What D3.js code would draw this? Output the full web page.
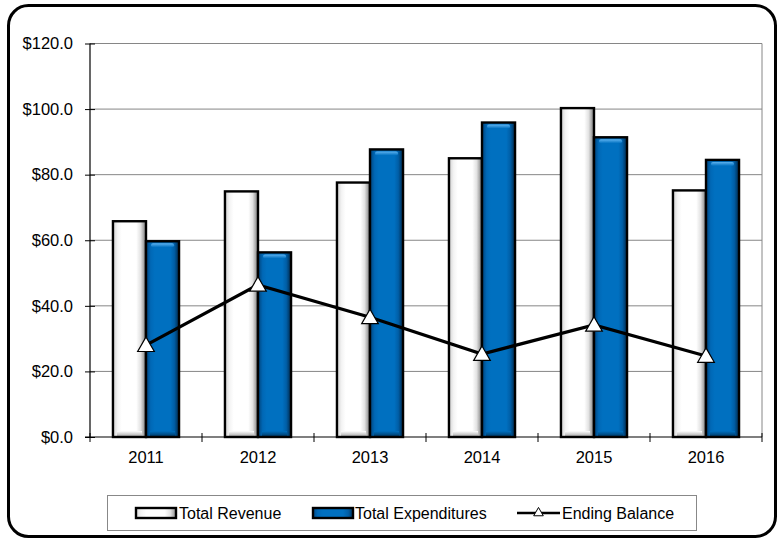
<!DOCTYPE html>
<html>
<head>
<meta charset="utf-8">
<script src="https://cdn.jsdelivr.net/npm/d3@7"></script>
<style>
  html, body { margin: 0; padding: 0; background: #fff; }
  svg { display: block; font-family: "Liberation Sans", Arial, sans-serif; }
</style>
</head>
<body>
<svg id="chart" width="777" height="539"></svg>
<script>
// Fiscal years and amounts (in millions)
const years = ["2011", "2012", "2013", "2014", "2015", "2016"];
const totalRevenue = [65.8, 74.9, 77.6, 85.0, 100.3, 75.2];
const totalExpenditures = [59.7, 56.3, 87.7, 95.9, 91.4, 84.5];
const endingBalance = [28.0, 46.4, 36.5, 25.3, 34.2, 24.7];
const yTicks = [0, 20, 40, 60, 80, 100, 120];
const seriesNames = ["Total Revenue", "Total Expenditures", "Ending Balance"];

const svg = d3.select("#chart");
const plot = { left: 90, right: 762, top: 43.5, bottom: 437 };

// Gradients that give the bars their bevelled look
const defs = svg.append("defs");
function hGrad(id, stops) {
  const g = defs.append("linearGradient").attr("id", id)
    .attr("x1", "0%").attr("x2", "100%").attr("y1", "0%").attr("y2", "0%");
  stops.forEach(([o, c]) => g.append("stop").attr("offset", o).attr("stop-color", c));
}
function vGrad(id, stops) {
  const g = defs.append("linearGradient").attr("id", id)
    .attr("x1", "0%").attr("x2", "0%").attr("y1", "0%").attr("y2", "100%");
  stops.forEach(([o, c]) => g.append("stop").attr("offset", o).attr("stop-color", c));
}
hGrad("revFill", [["0%", "#d8d8d8"], ["12%", "#f4f4f4"], ["25%", "#ffffff"], ["72%", "#ffffff"], ["86%", "#e2e2e2"], ["100%", "#8c8c8c"]]);
hGrad("expFill", [["0%", "#004a86"], ["12%", "#0068b6"], ["25%", "#0070c0"], ["75%", "#0070c0"], ["88%", "#005ea6"], ["100%", "#00345e"]]);
vGrad("expTop", [["0%", "#5fb3f0"], ["100%", "#0070c0"]]);
vGrad("revBottom", [["0%", "#ffffff"], ["100%", "#b0b0b0"]]);
vGrad("expBottom", [["0%", "#0070c0"], ["100%", "#003d6c"]]);

// Outer rounded frame
svg.append("rect")
  .attr("x", 8.5).attr("y", 5.5).attr("width", 767).attr("height", 531)
  .attr("rx", 20).attr("ry", 20)
  .attr("fill", "#fff").attr("stroke", "#000").attr("stroke-width", 3);

const x = d3.scaleBand().domain(years)
  .range([plot.left, plot.right])
  .paddingInner(0.41).paddingOuter(0.205);
const x1 = d3.scaleBand().domain(["rev", "exp"]).range([0, x.bandwidth()]);
const y = d3.scaleLinear().domain([0, 120]).range([plot.bottom, plot.top]);

// Horizontal gridlines and plot border
svg.append("g").selectAll("line").data(yTicks.filter(t => t > 0)).join("line")
  .attr("x1", plot.left).attr("x2", plot.right)
  .attr("y1", d => y(d)).attr("y2", d => y(d))
  .attr("stroke", "#868686").attr("stroke-width", 1);
svg.append("line")
  .attr("x1", plot.right).attr("x2", plot.right)
  .attr("y1", plot.top).attr("y2", plot.bottom)
  .attr("stroke", "#868686").attr("stroke-width", 1);

// Y axis
const yAxis = svg.append("g").attr("transform", `translate(${plot.left},0)`)
  .call(d3.axisLeft(y).tickValues(yTicks).tickSize(5).tickPadding(12)
    .tickFormat(d => "$" + d.toFixed(1)));
yAxis.select(".domain").remove();
yAxis.selectAll(".tick line").attr("x2", 5).attr("x1", -5).attr("stroke", "#000");
yAxis.selectAll("text").attr("font-size", 16.5).attr("fill", "#000")
  .attr("font-family", "'Liberation Sans', Arial, sans-serif");
svg.append("line").attr("x1", plot.left).attr("x2", plot.left)
  .attr("y1", plot.top).attr("y2", plot.bottom + 1)
  .attr("stroke", "#000").attr("stroke-width", 1.2);

// Bars
const barData = years.map((yr, i) => [
  { year: yr, key: "rev", value: totalRevenue[i] },
  { year: yr, key: "exp", value: totalExpenditures[i] }
]).flat();

const bars = svg.append("g").selectAll("g").data(barData).join("g")
  .attr("transform", d => `translate(${x(d.year) + x1(d.key)},0)`);
const bw = x1.bandwidth();
bars.append("rect")
  .attr("x", 1).attr("y", d => y(d.value)).attr("width", bw - 2)
  .attr("height", d => y(0) - y(d.value))
  .attr("fill", d => d.key === "rev" ? "url(#revFill)" : "url(#expFill)");
bars.filter(d => d.key === "exp").append("rect")
  .attr("x", 5).attr("y", d => y(d.value) + 2).attr("width", bw - 10).attr("height", 4)
  .attr("rx", 2).attr("fill", "url(#expTop)");
bars.append("rect")
  .attr("x", 4).attr("y", plot.bottom - 6).attr("width", bw - 8).attr("height", 5)
  .attr("fill", d => d.key === "rev" ? "url(#revBottom)" : "url(#expBottom)");
bars.append("rect")
  .attr("x", 0).attr("y", d => y(d.value)).attr("width", bw)
  .attr("height", d => y(0) - y(d.value))
  .attr("fill", "none").attr("stroke", "#000").attr("stroke-width", 2.4);

// X axis
svg.append("line").attr("x1", plot.left - 5).attr("x2", plot.right)
  .attr("y1", plot.bottom).attr("y2", plot.bottom)
  .attr("stroke", "#000").attr("stroke-width", 1.2);
const xBounds = d3.range(years.length + 1).map(i => plot.left + i * x.step());
svg.append("g").selectAll("line").data(xBounds).join("line")
  .attr("x1", d => d).attr("x2", d => d)
  .attr("y1", plot.bottom - 4).attr("y2", plot.bottom + 5)
  .attr("stroke", "#000").attr("stroke-width", 1);
svg.append("g").selectAll("text").data(years).join("text")
  .attr("x", d => x(d) + x.bandwidth() / 2).attr("y", 463)
  .attr("text-anchor", "middle").attr("font-size", 16.5).attr("fill", "#000")
  .text(d => d);

// Ending balance line with triangle markers
const cx = d => x(d) + x.bandwidth() / 2;
const lineGen = d3.line().x((d, i) => cx(years[i])).y(d => y(d));
svg.append("path").datum(endingBalance)
  .attr("d", lineGen).attr("fill", "none")
  .attr("stroke", "#000").attr("stroke-width", 3.2);
const tri = d3.symbol().type(d3.symbolTriangle).size(120);
svg.append("g").selectAll("path").data(endingBalance).join("path")
  .attr("transform", (d, i) => `translate(${cx(years[i])},${y(d) + 1.5})`)
  .attr("d", tri).attr("fill", "#fff").attr("stroke", "#000").attr("stroke-width", 1.2);

// Legend
const legend = svg.append("g");
legend.append("rect").attr("x", 107.5).attr("y", 495.5).attr("width", 589).attr("height", 35)
  .attr("fill", "#fff").attr("stroke", "#888").attr("stroke-width", 1);
const ly = 513;
legend.append("rect").attr("x", 136).attr("y", ly - 5).attr("width", 40).attr("height", 10)
  .attr("fill", "url(#revFill)").attr("stroke", "#000").attr("stroke-width", 2.4);
legend.append("rect").attr("x", 313).attr("y", ly - 5).attr("width", 40).attr("height", 10)
  .attr("fill", "url(#expFill)").attr("stroke", "#000").attr("stroke-width", 2.4);
legend.append("line").attr("x1", 517).attr("x2", 560).attr("y1", ly).attr("y2", ly)
  .attr("stroke", "#000").attr("stroke-width", 2.6);
legend.append("path").attr("transform", `translate(538.5,${ly})`)
  .attr("d", d3.symbol().type(d3.symbolTriangle).size(40))
  .attr("fill", "#fff").attr("stroke", "#000").attr("stroke-width", 1);
const lx = [179, 355, 562];
legend.selectAll("text.lbl").data(seriesNames).join("text")
  .attr("class", "lbl")
  .attr("x", (d, i) => lx[i]).attr("y", ly + 6)
  .attr("font-size", 16).attr("fill", "#000")
  .text(d => d);
</script>
</body>
</html>
